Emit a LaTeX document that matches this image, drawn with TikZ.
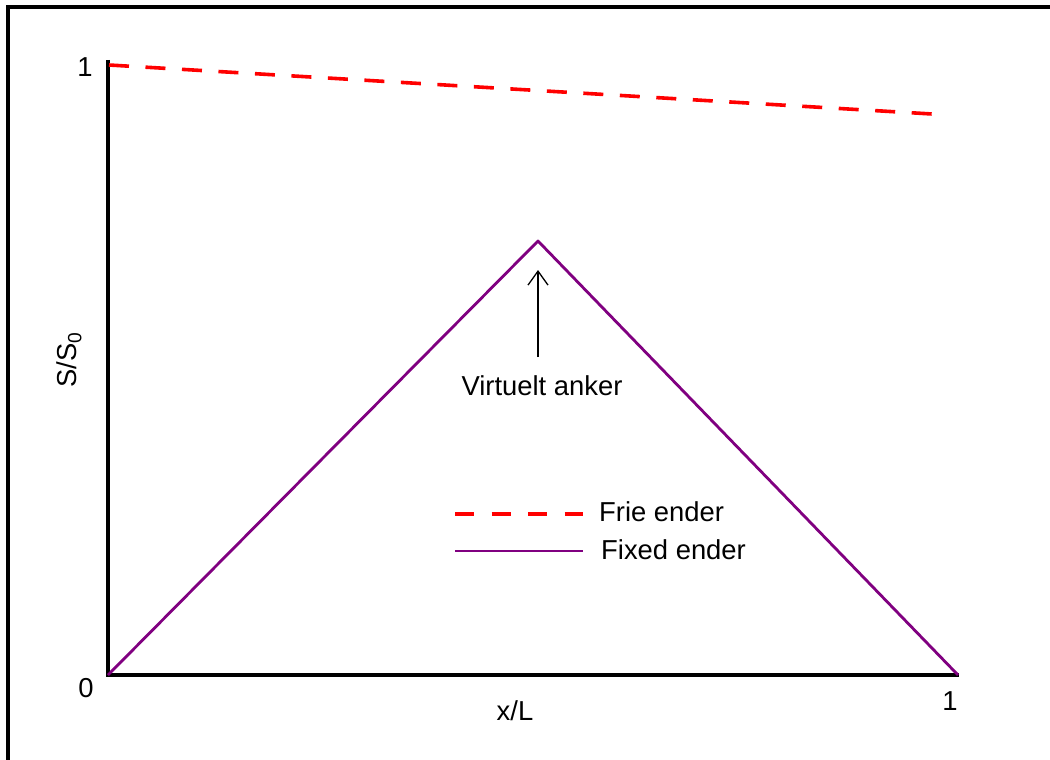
\documentclass[tikz,border=0pt]{standalone}
\usepackage{fontspec}
\setmainfont{Liberation Sans}
\usetikzlibrary{arrows.meta}
\definecolor{fixedpurple}{RGB}{128,0,128}
\definecolor{freered}{RGB}{255,0,0}
\begin{document}
\begin{tikzpicture}[x=1bp,y=-1bp,
  lbl/.style={font=\fontsize{27.5}{32}\selectfont, inner sep=0pt},
  axisline/.style={line width=3.2bp, black},
  freeline/.style={line width=3.6bp, freered, dash pattern=on 20bp off 16.55bp},
  fixedline/.style={line width=2.8bp, fixedpurple, line join=round},
  pointer/.style={line width=1.5bp, black, -{Straight Barb[length=14bp,width=20bp,line width=1.3bp]}}]
\useasboundingbox (0,0) rectangle (1050,760);
% outer frame (left and top edges)
\draw[line width=3.2bp] (8,760) -- (8,7) -- (1050,7);

% axes
\coordinate (O) at (108,675);
\coordinate (ytop) at (108,60);
\coordinate (xend) at (959,675);
\draw[axisline] (ytop) -- (O) -- (xend);

% axis labels
\node[lbl] (y1) at (85,67) {1};
\node[lbl] (y0) at (86,688) {0};
\node[lbl] (x1) at (950,701) {1};
\node[lbl] (xlab) at (515,711) {x/L};
\node[lbl, rotate=90] (ylab) at (69,360) {S/S\textsubscript{0}};

% free ends: slightly decreasing dashed line
\coordinate (f0) at (109,65);
\coordinate (f1) at (932,114);
\draw[freeline] (f0) -- (f1);

% fixed ends: triangle with apex at the virtual anchor
\coordinate (apex) at (538,241);
\coordinate (tend) at (958,675);
\draw[fixedline] (O) -- (apex) -- (tend);

% virtual anchor pointer
\coordinate (ptail) at (538,357);
\coordinate (phead) at (538,270);
\draw[pointer] (ptail) -- (phead);
\node[lbl] (anchor) at (542,386) {Virtuelt anker};

% legend
\coordinate (l1a) at (455,514);
\coordinate (l1b) at (583,514);
\coordinate (l2a) at (455,551);
\coordinate (l2b) at (583,551);
\draw[freeline, dash pattern=on 19bp off 17.5bp] (l1a) -- (l1b);
\draw[fixedline] (l2a) -- (l2b);
\node[lbl, anchor=west] (leg1) at (599,512) {Frie ender};
\node[lbl, anchor=west] (leg2) at (601,550) {Fixed ender};
\end{tikzpicture}
\end{document}
